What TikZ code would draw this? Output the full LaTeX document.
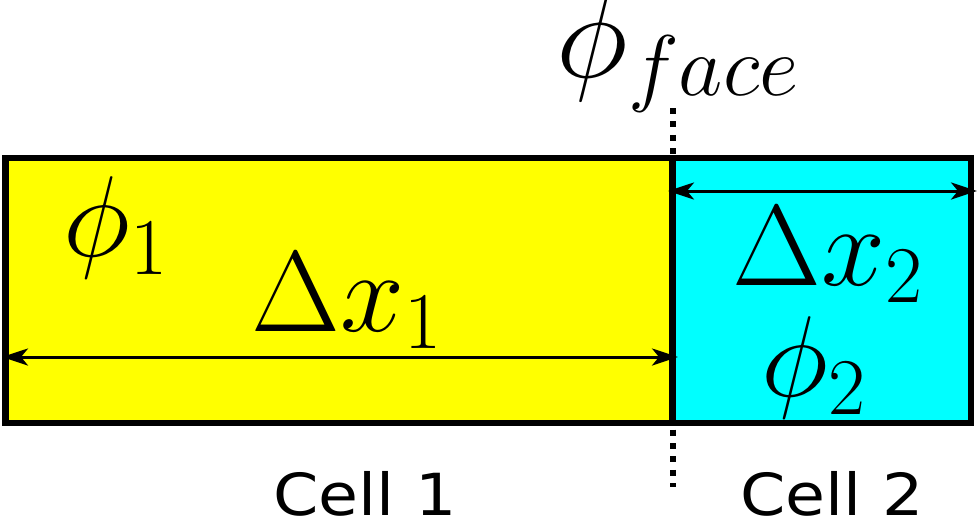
\RequirePackage{fix-cm}
\documentclass[tikz,border=0pt]{standalone}
\usepackage{fontspec}
\setsansfont{DejaVu Sans}
\usetikzlibrary{arrows.meta}
\definecolor{cellyellow}{RGB}{255,255,0}
\definecolor{cellcyan}{RGB}{0,255,255}
\tikzset{
  cell/.style={draw=black, line width=6.5pt, rectangle, inner sep=0pt, outer sep=0pt, minimum height=265pt, anchor=north west},
  dimline/.style={line width=3pt, {Stealth[length=26pt,width=17pt,inset=7pt]}-{Stealth[length=26pt,width=17pt,inset=7pt]}},
  dotline/.style={line width=6pt, dash pattern=on 6pt off 7.4pt},
  mathlbl/.style={inner sep=0pt, font=\fontsize{115}{115}\selectfont},
  celllbl/.style={inner sep=0pt, xscale=1.12, font=\sffamily\fontsize{58}{58}\selectfont}
}
\begin{document}
\begin{tikzpicture}[x=1pt,y=-1pt]
\useasboundingbox (0,0) rectangle (979,525);
\coordinate (dtop) at (673,108);
\coordinate (dbot) at (673,487);
\draw[dotline] (dtop) -- (dbot);
\node[cell, fill=cellyellow, minimum width=667pt] (cell1) at (5.5,158) {};
\node[cell, fill=cellcyan, minimum width=298.5pt] (cell2) at (672.5,158) {};
\coordinate (d1a) at (2,357);
\coordinate (d1b) at (678,357);
\draw[dimline] (d1a) -- (d1b);
\coordinate (d2a) at (668,191);
\coordinate (d2b) at (977,191);
\draw[dimline] (d2a) -- (d2b);
\node[mathlbl] (phi1) at (116,228) {$\phi_1$};
\node[mathlbl] (dx1) at (347,301) {$\Delta x_1$};
\node[mathlbl] (dx2) at (828,255) {$\Delta x_2$};
\node[mathlbl] (phi2) at (814,368) {$\phi_2$};
\node[mathlbl, font=\fontsize{123}{123}\selectfont] (phiface) at (678,52) {$\phi_{face}$};
\node[celllbl, anchor=base] (c1lbl) at (365,515) {Cell 1};
\node[celllbl, anchor=base] (c2lbl) at (832,515) {Cell 2};
\end{tikzpicture}
\end{document}
